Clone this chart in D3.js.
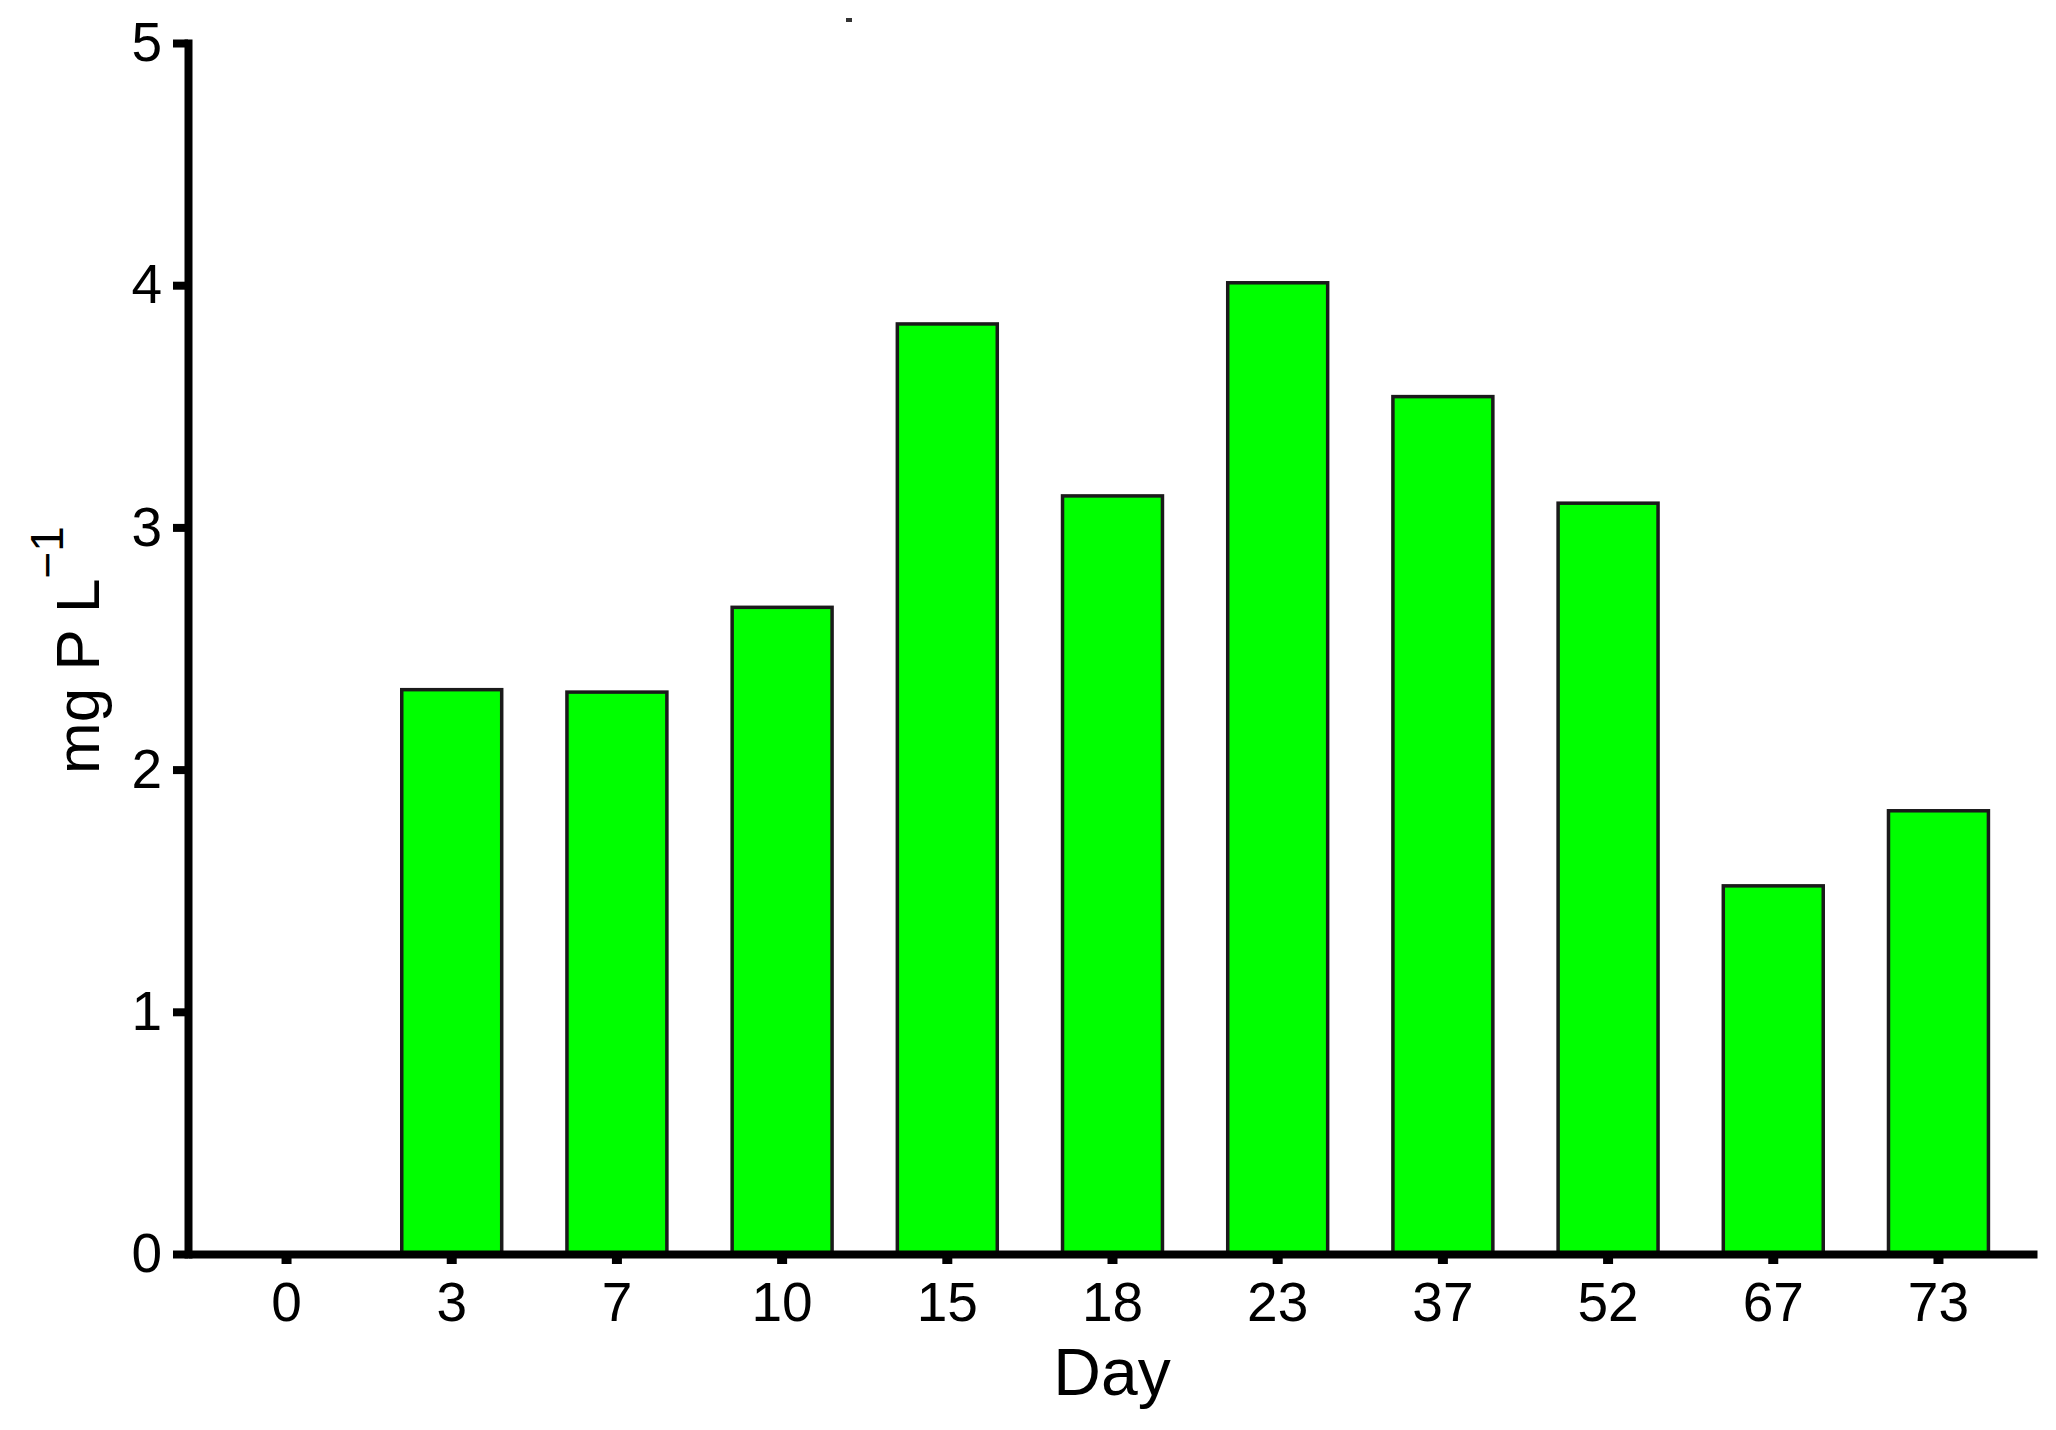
<!DOCTYPE html>
<html><head><meta charset="utf-8">
<script src="https://cdn.jsdelivr.net/npm/d3@7"></script>
<style>body{margin:0;background:#fff}svg{display:block}text{font-family:"Liberation Sans",Arial,sans-serif}</style>
</head><body>
<svg id="c" width="2056" height="1430"></svg>
<script>
const days = ["0","3","7","10","15","18","23","37","52","67","73"];
const values = [0, 2.33, 2.32, 2.67, 3.84, 3.13, 4.01, 3.54, 3.10, 1.52, 1.83];
const yTicks = [0,1,2,3,4,5];

const svg = d3.select("#c");
const x = d3.scaleBand().domain(days).range([188, 2037]).paddingInner(0.395).paddingOuter(0.294);
const y = d3.scaleLinear().domain([0,5]).range([1254, 43]);

svg.append("g").selectAll("rect").data(days).join("rect")
  .attr("x", d => x(d)).attr("width", x.bandwidth())
  .attr("y", (d,i) => y(values[i])).attr("height", (d,i) => y(0) - y(values[i]))
  .attr("fill", "#00ff00").attr("stroke", "#1a1a1a").attr("stroke-width", 3.5)
  .style("display", (d,i) => values[i] > 0 ? null : "none");

const gy = svg.append("g").attr("transform","translate(188,0)")
  .call(d3.axisLeft(y).tickValues(yTicks).tickFormat(d3.format("d")).tickSize(15).tickSizeOuter(0).tickPadding(11));
gy.select(".domain").attr("stroke","#000").attr("stroke-width",8).attr("stroke-linecap","square");
gy.selectAll(".tick line").attr("stroke","#000").attr("stroke-width",8);
gy.selectAll(".tick text").attr("font-size",55).attr("fill","#000").attr("font-family","Liberation Sans, Arial, sans-serif");

const gx = svg.append("g").attr("transform","translate(0,1254)")
  .call(d3.axisBottom(x).tickSize(10).tickSizeOuter(0).tickPadding(18));
gx.select(".domain").attr("stroke","#000").attr("stroke-width",8);
gx.selectAll(".tick line").attr("stroke","#000").attr("stroke-width",10);
gx.selectAll(".tick text").attr("font-size",55).attr("fill","#000").attr("font-family","Liberation Sans, Arial, sans-serif");

svg.append("text").attr("x",1112).attr("y",1395).attr("text-anchor","middle")
  .attr("font-size",66).attr("fill","#000").text("Day");

const yl = svg.append("text").attr("transform","translate(99,650) rotate(-90)")
  .attr("text-anchor","middle").attr("font-size",62).attr("fill","#000");
yl.append("tspan").text("mg P L");
yl.append("tspan").attr("font-size",46).attr("dy",-36).text("\u22121");

svg.append("rect").attr("x",846).attr("y",18).attr("width",6).attr("height",4).attr("fill","#333");
</script>
</body></html>
